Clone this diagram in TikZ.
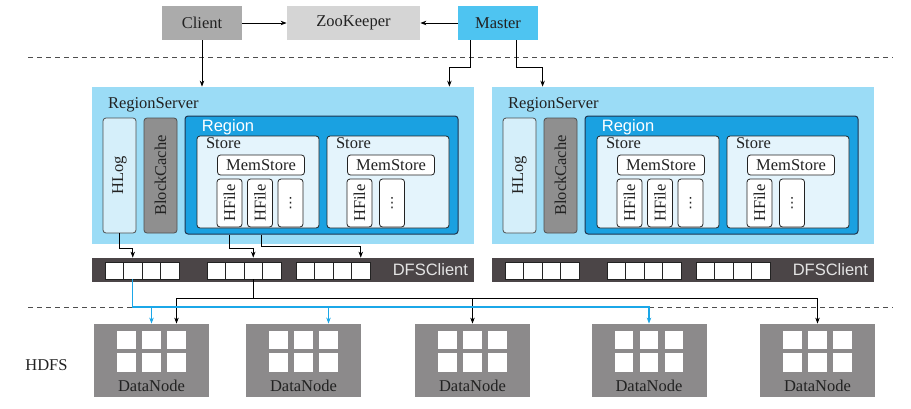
\documentclass[tikz,border=0pt]{standalone}
\usepackage{fontspec}
\setmainfont{Liberation Serif}
\setsansfont{Liberation Sans}
\newfontfamily\dotsfont{DejaVu Sans}
\usepackage{graphicx}
\usepackage{tikz}
\usetikzlibrary{calc, positioning, arrows.meta}

\definecolor{ink}{HTML}{222222}
\definecolor{rsblue}{HTML}{9BDCF6}
\definecolor{regionblue}{HTML}{1AA1E1}
\definecolor{regionedge}{HTML}{1E3550}
\definecolor{masterblue}{HTML}{4EC4F1}
\definecolor{logblue}{HTML}{D5EFFA}
\definecolor{storeblue}{HTML}{E4F4FC}
\definecolor{busblue}{HTML}{1BA7E8}
\definecolor{cachegray}{HTML}{8F8F8F}
\definecolor{clientgray}{HTML}{ABABAB}
\definecolor{zkgray}{HTML}{D5D5D5}
\definecolor{dfsgray}{HTML}{4B4547}
\definecolor{dfstext}{HTML}{E4E4E4}
\definecolor{dngray}{HTML}{8C8A8B}

\tikzset{
	title/.style = {inner sep=0pt, text=ink},
	sans/.style = {font=\fontsize{16.5}{19}\selectfont\sffamily},
	topbox/.style = {inner sep=0pt, minimum width=80pt, minimum height=34pt},
	strip/.style = {draw=ink!80, rounded corners=3pt, inner sep=0pt, minimum width=33pt, minimum height=115pt},
	region/.style = {draw=regionedge, fill=regionblue, rounded corners=3pt, line width=1pt, minimum width=273pt, minimum height=118pt},
	store/.style = {draw=ink, fill=storeblue, rounded corners=3pt, inner sep=0pt, minimum width=122pt, minimum height=92pt},
	mem/.style = {draw=ink, fill=white, rounded corners=3pt, inner sep=0pt, minimum width=87pt, minimum height=20pt},
	hfile/.style = {draw=ink, fill=white, rounded corners=3pt, inner sep=0pt, minimum width=25pt, minimum height=48pt},
	cell/.style = {draw=ink, fill=white, inner sep=0pt, minimum width=18.5pt, minimum height=17pt},
	datanode/.style = {fill=dngray, inner sep=0pt, minimum width=115pt, minimum height=73pt},
	slot/.style = {fill=white, inner sep=0pt, minimum size=18.5pt},
	sep/.style = {draw=ink!80, dash pattern=on 5pt off 4pt},
	bus/.style = {draw=busblue, line width=1.2pt, ->}
}

\begin{document}
\begin{tikzpicture}[x=1pt, y=-1pt, font=\fontsize{16.5}{19}\selectfont, text=ink, line width=0.8pt, >={Stealth[length=6pt, width=4.5pt]}]
	\useasboundingbox (0,0) rectangle (911,408);

	\node[topbox, fill=clientgray] (client) at (202,23) {Client};
	\node[topbox, fill=zkgray, minimum width=133pt] (zk) at (353.5,23) {ZooKeeper};
	\node[topbox, fill=masterblue] (master) at (498,23) {Master};

	\draw[sep] (28,57) -- (893,57);
	\draw[sep] (28,307) -- (893,307);

	\foreach \s/\dx in {a/0, b/400} {
		\begin{scope}[xshift=\dx pt, name prefix=\s-]
			\node[fill=rsblue, inner sep=0pt, minimum width=382pt, minimum height=157pt] (rs) at (283,165.5) {};
			\node[title, below right=11pt and 16pt of rs.north west] (rslabel) {RegionServer};
			\node[strip, fill=logblue] (hlog) at (119.5,175.5) {\rotatebox{90}{HLog}};
			\node[strip, fill=cachegray] (cache) at (160.5,175.5) {\rotatebox{90}{BlockCache}};
			\node[region] (region) at (321.5,175) {};
			\node[title, sans, text=white, below right=4pt and 17pt of region.north west] (regionlabel) {Region};
			\foreach \k/\sx in {1/258, 2/388} {
				\node[store] (store\k) at (\sx,182) {};
				\node[title, below right=2pt and 9pt of store\k.north west] (storelabel\k) {Store};
				\node[mem] (mem\k) at (\sx+3,165) {MemStore};
			}
			\node[hfile] (hfile11) at (229.5,203) {\rotatebox{90}{HFile}};
			\node[hfile] (hfile12) at (260,203) {\rotatebox{90}{HFile}};
			\node[hfile, font=\dotsfont\fontsize{14}{16}\selectfont] (more1) at (290.5,203) {⋮};
			\node[hfile] (hfile21) at (359.5,203) {\rotatebox{90}{HFile}};
			\node[hfile, font=\dotsfont\fontsize{14}{16}\selectfont] (more2) at (392,203) {⋮};

			\node[fill=dfsgray, inner sep=0pt, minimum width=382pt, minimum height=24pt] (dfs) at (283,270) {};
			\node[title, sans, text=dfstext, left=6pt of dfs.east] (dfslabel) {DFSClient};
			\foreach \g/\gx in {1/105, 2/207, 3/296}
				\foreach \c in {1,...,4}
					\node[cell] (g\g c\c) at (\gx+18.5*\c-9.25,270.5) {};
		\end{scope}
	}

	\foreach \d/\dx in {1/151.5, 2/303.5, 3/472.5, 4/649, 5/817.5} {
		\node[datanode] (dn\d) at (\dx,360.5) {};
		\foreach \r/\ry in {t/340, b/362.5}
			\foreach \c/\cx in {1/-25, 2/0, 3/25}
				\node[slot] (dn\d-\r\c) at (\dx+\cx,\ry) {};
		\node[title, above=5pt of dn\d.south] (dnlabel\d) {DataNode};
	}
	\node[title, anchor=west] (hdfs) at (25,365) {HDFS};

	\draw[->] (client) -- (zk);
	\draw[->] (master) -- (zk);
	\draw[->] (client) -- (client |- a-rs.north);
	\draw[->] ([xshift=-28pt]master.south) -- ++(0,27) -| ([xshift=-25pt]a-rs.north east);
	\draw[->] ([xshift=18pt]master.south) -- ++(0,27) -| ([xshift=51pt]b-rs.north west);

	\draw[->] (a-hlog.south) -- ++(0,15) -| (a-g1c2 |- a-dfs.north);
	\draw[->] ([xshift=-92.5pt]a-region.south) -- ++(0,14) -| (a-g2c3 |- a-dfs.north);
	\draw[->] ([xshift=-60.5pt]a-region.south) -- ++(0,12) -| (a-g3c4 |- a-dfs.north);

	\coordinate (blackbus) at (0,298);
	\coordinate (bluebus) at (0,307);
	\draw (a-g2c3.south) -- (a-g2c3 |- blackbus);
	\draw[<->] (dn1-t3 |- dn1.north) |- (dn5-t2 |- blackbus) -- (dn5-t2 |- dn5.north);
	\draw[->] (dn3-t2 |- blackbus) -- (dn3-t2 |- dn3.north);

	\draw[bus] (a-g1c2.south) |- (dn4-t2 |- bluebus) -- (dn4-t2 |- dn4.north);
	\draw[bus] (dn1-t2 |- bluebus) -- (dn1-t2 |- dn1.north);
	\draw[bus] (dn2-t3 |- bluebus) -- (dn2-t3 |- dn2.north);
\end{tikzpicture}
\end{document}
